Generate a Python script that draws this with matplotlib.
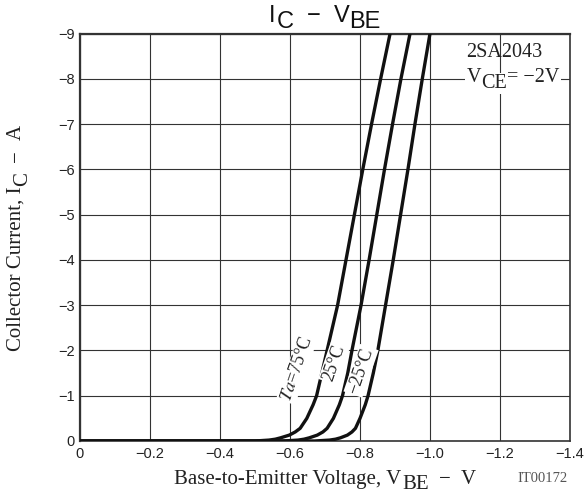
import matplotlib.pyplot as plt
from matplotlib.transforms import IdentityTransform

# Collector current points (A) shared by all three curves
ic = [0, -0.02, -0.04, -0.07, -0.13, -0.2, -0.28, -0.5, -0.8, -1.0, -1.5, -2,
      -3, -4, -5, -6, -7, -8, -9]

# Base-to-emitter voltage (V) for each ambient temperature
vbe_75 = [-0.50, -0.54, -0.558, -0.573, -0.598, -0.615, -0.629, -0.648, -0.666, -0.676,
          -0.691, -0.706, -0.736, -0.760, -0.784, -0.808, -0.833, -0.859, -0.886]
vbe_25 = [-0.58, -0.623, -0.64, -0.655, -0.678, -0.694, -0.706, -0.724, -0.741, -0.750,
          -0.765, -0.777, -0.803, -0.826, -0.848, -0.870, -0.893, -0.917, -0.943]
vbe_m25 = [-0.67, -0.713, -0.73, -0.744, -0.764, -0.777, -0.787, -0.800, -0.815, -0.823,
           -0.838, -0.851, -0.873, -0.895, -0.916, -0.937, -0.957, -0.978, -1.0]

x_ticks = [0, -0.2, -0.4, -0.6, -0.8, -1.0, -1.2, -1.4]
x_labels = ['0', '\u22120.2', '\u22120.4', '\u22120.6', '\u22120.8', '\u22121.0', '\u22121.2', '\u22121.4']
y_ticks = [0, -1, -2, -3, -4, -5, -6, -7, -8, -9]
y_labels = ['0'] + ['\u2212%d' % k for k in range(1, 10)]

serif = ['Liberation Serif', 'DejaVu Serif']
sans = ['Liberation Sans', 'DejaVu Sans']
MENOS = '\u2212'


def texto_composto(fig, x, y, partes, rotacao=0, **kw):
    """Escreve texto em pedaços (para índices do tamanho normal, estilo datasheet).
    x, y em pixels a partir do canto superior esquerdo; partes = (texto, desce_px, espaco_px)"""
    r = fig.canvas.get_renderer()
    H = fig.bbox.height
    itens = []
    total = 0
    for txt, dy, gap in partes:
        t = fig.text(0, 0, txt, transform=IdentityTransform(), ha='left', va='baseline',
                     rotation=rotacao, rotation_mode='anchor', **kw)
        bb = t.get_window_extent(r)
        w = bb.height if rotacao else bb.width
        itens.append((t, dy, gap, w))
        total += gap + w
    pos = -total / 2
    for t, dy, gap, w in itens:
        pos += gap
        if rotacao:
            t.set_position((x + dy, H - y + pos))
        else:
            t.set_position((x + pos, H - y - dy))
        pos += w


fig = plt.figure(figsize=(5.86, 4.95), dpi=100)
ax = fig.add_axes([80 / 586, 54 / 495, 490 / 586, 407.5 / 495])

# curvas (parte plana sobre o zero primeiro)
for v in (vbe_75, vbe_25, vbe_m25):
    ax.plot([0] + v, [0] + ic, color='#111111', linewidth=2.4, solid_capstyle='butt',
            solid_joinstyle='round', zorder=3)

ax.set_xlim(0, -1.4)
ax.set_ylim(0, -9)
ax.set_xticks(x_ticks)
ax.set_xticklabels(x_labels, family=sans, fontsize=10.5, color='#222222')
ax.set_yticks(y_ticks)
ax.set_yticklabels(y_labels, family=sans, fontsize=10.5, color='#222222')
ax.tick_params(length=0, pad=4)
ax.grid(True, color='#333333', linewidth=0.8)
for s in ax.spines.values():
    s.set_color('#333333')
    s.set_linewidth(1.2)
ax.spines['left'].set_linewidth(1.6)
ax.spines['top'].set_linewidth(1.6)

# título e rótulos dos eixos
texto_composto(fig, 325, 22, [('I', 0, 0), ('C', 6, 1), (MENOS, 0, 13), ('V', 0, 13), ('BE', 6, 0)],
               family=sans, fontsize=17, color='#111111')
texto_composto(fig, 325, 484, [('Base-to-Emitter Voltage, V', 0, 0), ('BE', 5, 1),
                               (MENOS, 0, 10), ('V', 0, 10)],
               family=serif, fontsize=15, color='#222222')
texto_composto(fig, 21, 238, [('Collector Current, I', 0, 0), ('C', 6, 1),
                              (MENOS, 0, 10), ('A', 0, 10)],
               rotacao=90, family=serif, fontsize=15, color='#222222')

box = dict(facecolor='white', edgecolor='none', pad=1)
texto_composto(fig, 504, 57, [('2SA2043', 0, 0)], family=serif, fontsize=14.5, color='#222222')
texto_composto(fig, 513, 82, [('V', 0, 0), ('CE', 6, 0), ('= ' + MENOS + '2V', 0, 0)],
               family=serif, fontsize=14.5, color='#222222', bbox=box)

ax.text(-0.62, -1.6, r'$\mathit{Ta}$=75°C', family=serif, fontsize=13, rotation=71,
        ha='center', va='center', color='#222222', bbox=box, zorder=4,
        math_fontfamily='stix')
ax.text(-0.726, -1.72, '25°C', family=serif, fontsize=13, rotation=71,
        ha='center', va='center', color='#222222', bbox=box, zorder=4)
ax.text(-0.803, -1.55, MENOS + '25°C', family=serif, fontsize=13, rotation=71,
        ha='center', va='center', color='#222222', bbox=box, zorder=4)

fig.text(543 / 586, 1 - 479 / 495, 'IT00172', family=serif, fontsize=10.5,
         ha='center', va='center', color='#555555')

fig.savefig('out.png', dpi=100)
